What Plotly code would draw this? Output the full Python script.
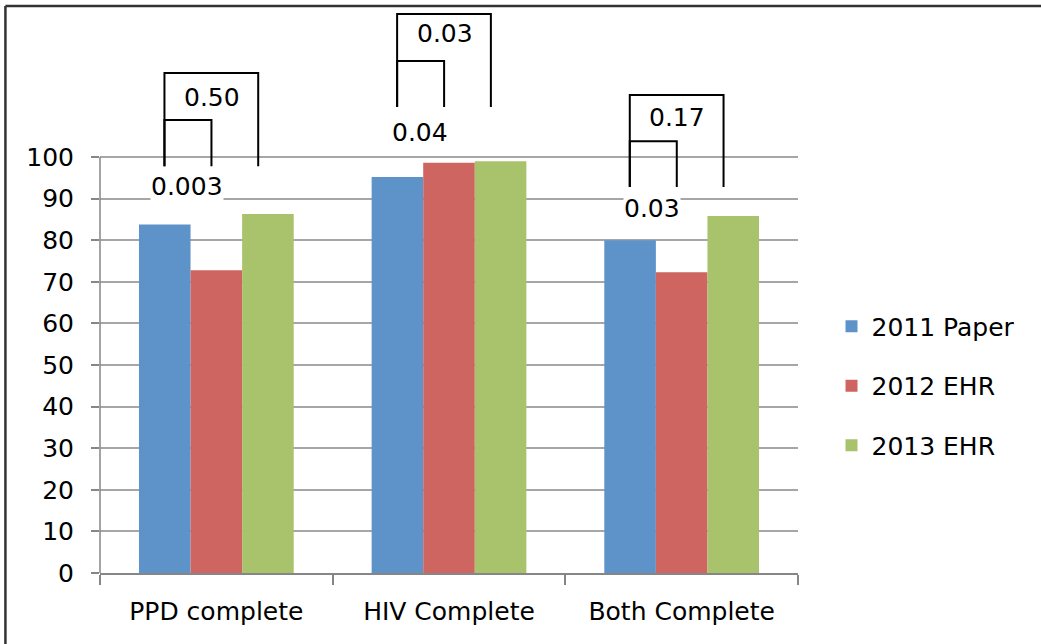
import plotly.graph_objects as go

categories = ["PPD complete", "HIV Complete", "Both Complete"]
series_names = ["2011 Paper", "2012 EHR", "2013 EHR"]
paper_2011 = [83.8, 95.2, 80.0]
ehr_2012 = [72.8, 98.6, 72.3]
ehr_2013 = [86.3, 99.0, 85.8]
colors = ["#5E93CA", "#CE6560", "#A8C36B"]

# p-value brackets (inner: 2011 vs 2012, outer: 2011 vs 2013)
p_inner = ["0.003", "0.04", "0.03"]
p_outer = ["0.50", "0.03", "0.17"]
bracket_base = [97.8, 112.0, 92.8]
inner_top = [108.9, 123.1, 103.8]
outer_top = [120.2, 134.4, 114.9]
inner_label_y = [92.8, 106.0, 87.7]
outer_label_y = [114.4, 129.8, 109.6]

y_ticks = list(range(0, 101, 10))

FONT = "DejaVu Sans"
FS = 25

fig = go.Figure()
for name, vals, col in zip(series_names, [paper_2011, ehr_2012, ehr_2013], colors):
    fig.add_trace(go.Bar(x=categories, y=vals, name=name, marker=dict(color=col, line=dict(width=0)),
                         legendgroup=name))

shapes = []
annotations = []
off_l, off_m, off_r = -0.223, -0.021, 0.180
for i in range(len(categories)):
    xl, xm, xr = i + off_l, i + off_m, i + off_r
    shapes.append(dict(type="path", xref="x", yref="y",
                       path=f"M {xl},{bracket_base[i]} L {xl},{inner_top[i]} L {xm},{inner_top[i]} L {xm},{bracket_base[i]}",
                       line=dict(color="black", width=2)))
    shapes.append(dict(type="path", xref="x", yref="y",
                       path=f"M {xl},{bracket_base[i]} L {xl},{outer_top[i]} L {xr},{outer_top[i]} L {xr},{bracket_base[i]}",
                       line=dict(color="black", width=2)))
    annotations.append(dict(x=i - 0.126, y=inner_label_y[i], xref="x", yref="y", text=p_inner[i],
                            showarrow=False, bgcolor="white", font=dict(size=FS, color="black", family=FONT),
                            borderpad=0))
    annotations.append(dict(x=i - 0.018, y=outer_label_y[i], xref="x", yref="y", text=p_outer[i],
                            showarrow=False, bgcolor="white", font=dict(size=FS, color="black", family=FONT),
                            borderpad=0))

# y axis line from 0 to 100 only
shapes.append(dict(type="line", xref="paper", yref="y", x0=0, x1=0, y0=0, y1=100,
                   line=dict(color="#868686", width=1.5)))
# outer frame (left and top)
shapes.append(dict(type="line", xref="paper", yref="paper", x0=-0.1355, x1=-0.1355, y0=-0.2, y1=1.0,
                   line=dict(color="#333333", width=2.5)))
shapes.append(dict(type="line", xref="paper", yref="paper", x0=-0.1355, x1=1.35, y0=1.0, y1=1.0,
                   line=dict(color="#333333", width=2.5)))

fig.update_layout(
    width=1041, height=644,
    margin=dict(l=100, r=243, t=6, b=71),
    paper_bgcolor="white", plot_bgcolor="white",
    font=dict(family=FONT, size=FS, color="black"),
    barmode="group", bargap=0.335, bargroupgap=0,
    showlegend=True,
    legend=dict(x=1.048, y=0.33, xanchor="left", yanchor="middle", tracegroupgap=24,
                font=dict(size=FS, family=FONT, color="black"), itemwidth=30,
                bgcolor="rgba(0,0,0,0)"),
    shapes=shapes, annotations=annotations,
)
fig.update_xaxes(type="category", range=[-0.5, 2.5], showline=True, linecolor="#868686", linewidth=1.5,
                 ticks="outside", tickson="boundaries", ticklen=10, tickcolor="#868686", tickwidth=1.5,
                 showgrid=False, tickfont=dict(size=FS, family=FONT, color="black"), ticklabelstandoff=15)
fig.update_yaxes(range=[0, 136.3], tickvals=y_ticks, showgrid=True, gridcolor="#A6A6A6", gridwidth=1.5,
                 zeroline=False, showline=False, ticks="outside", ticklen=8, tickcolor="#868686", tickwidth=1.5,
                 tickfont=dict(size=FS, family=FONT, color="black"), ticklabelstandoff=12)

fig.write_html("out.html", config={"displayModeBar": False},
               post_script="document.body.style.margin='0';")
